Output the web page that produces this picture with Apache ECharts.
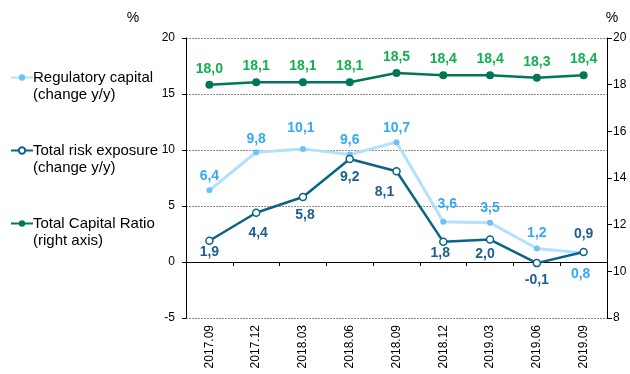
<!DOCTYPE html>
<html>
<head>
<meta charset="utf-8">
<script src="https://cdn.jsdelivr.net/npm/echarts@6/dist/echarts.min.js"></script>
<style>
  html, body { margin: 0; padding: 0; background: #fff; }
  #chart { width: 630px; height: 374px; }
</style>
</head>
<body>
<div id="chart"></div>
<script>
// Quarter-end dates
const categories = ['2017.09', '2017.12', '2018.03', '2018.06', '2018.09', '2018.12', '2019.03', '2019.06', '2019.09'];

// Year-on-year change, %
const regulatoryCapital = [6.4, 9.8, 10.1, 9.6, 10.7, 3.6, 3.5, 1.2, 0.8];
const totalRiskExposure = [1.9, 4.4, 5.8, 9.2, 8.1, 1.8, 2.0, -0.1, 0.9];

// Total Capital Ratio, % (right axis)
const totalCapitalRatio = [18.0, 18.1, 18.1, 18.1, 18.5, 18.4, 18.4, 18.3, 18.4];

// Axis tick settings
const leftTicks = { min: -5, max: 20, interval: 5 };
const rightTicks = { min: 8, max: 20, interval: 2 };

// Where each value label sits relative to its point
const regLabelPos = ['top', 'top', 'top', 'top', 'top', 'top', 'top', 'top', 'bottom'];
const riskLabelPos = ['bottom', 'bottom', 'bottom', 'bottom', 'bottom', 'bottom', 'bottom', 'bottom', 'top'];

const FONT = '"Liberation Sans", Arial, sans-serif';
const fmt = v => v.toFixed(1).replace('.', ',');

function withLabelPos(values, positions, extra) {
  return values.map((v, i) => ({
    value: v,
    label: Object.assign({ position: positions[i] }, (extra && extra[i]) || {})
  }));
}

// Small nudges for crowded labels
const riskLabelExtra = [
  { distance: 0 }, { distance: 9, offset: [2, 0] }, { distance: 7, offset: [2, 0] },
  { distance: 7 }, { distance: 10, offset: [-12, 0] }, { distance: 0, offset: [-3, 0] },
  { distance: 3, offset: [-5, 0] }, { distance: 6 }, { distance: 7 }
];
const regLabelExtra = [
  { distance: 4 }, { distance: 3 }, { distance: 11, offset: [-2, 0] }, { distance: 4 },
  { distance: 4 }, { distance: 8, offset: [4, 0] }, { distance: 5 }, { distance: 5 },
  { distance: 11, offset: [-3, 0] }
];

const legendText = {
  'Regulatory capital': 'Regulatory capital\n(change y/y)',
  'Total risk exposure': 'Total risk exposure\n(change y/y)',
  'Total Capital Ratio': 'Total Capital Ratio\n(right axis)'
};

const chart = echarts.init(document.getElementById('chart'), null, { renderer: 'canvas' });

const LH = 17;

chart.setOption({
  animation: false,
  backgroundColor: '#fff',
  textStyle: { fontFamily: FONT },
  grid: { left: 186, right: 23, top: 38, bottom: 56, containLabel: false, outerBoundsMode: 'none' },
  legend: {
    orient: 'vertical',
    left: 5,
    top: 47,
    itemWidth: 22,
    itemHeight: 8,
    itemGap: 22,
    selectedMode: false,
    textStyle: { fontFamily: FONT, fontSize: 15, color: '#000', lineHeight: LH, padding: [0, 0, 0, -5] },
    // leading blank line keeps the first text line level with the icon
    formatter: name => '\n' + legendText[name],
    data: ['Regulatory capital', 'Total risk exposure', 'Total Capital Ratio']
  },
  xAxis: {
    type: 'category',
    data: categories,
    boundaryGap: true,
    axisLine: { onZero: true, lineStyle: { color: '#000', width: 1 } },
    axisTick: { show: true, length: 4, lineStyle: { color: '#000' } },
    axisLabel: {
      rotate: 90, margin: 7, fontSize: 12, color: '#000', fontFamily: FONT
    },
    splitLine: { show: false }
  },
  yAxis: [
    {
      type: 'value',
      min: leftTicks.min, max: leftTicks.max, interval: leftTicks.interval,
      name: '%',
      nameLocation: 'end',
      nameGap: 13,
      nameTextStyle: { fontSize: 14, color: '#000', fontFamily: FONT, padding: [0, 106, 0, 0] },
      axisLine: { show: true, lineStyle: { color: '#000', width: 1 } },
      axisTick: { show: true, length: 4, lineStyle: { color: '#000' } },
      axisLabel: { fontSize: 12, color: '#000', margin: 11, fontFamily: FONT },
      splitLine: { show: true, lineStyle: { color: '#8c8c8c', type: [2, 1], width: 1 } }
    },
    {
      type: 'value',
      min: rightTicks.min, max: rightTicks.max, interval: rightTicks.interval,
      position: 'right',
      name: '%',
      nameLocation: 'end',
      nameGap: 13,
      nameTextStyle: { fontSize: 14, color: '#000', fontFamily: FONT, padding: [0, 0, 0, 10] },
      axisLine: { show: true, lineStyle: { color: '#000', width: 1 } },
      axisTick: { show: true, length: 5, lineStyle: { color: '#000' } },
      axisLabel: { fontSize: 12, color: '#000', margin: 6, fontFamily: FONT },
      splitLine: { show: false }
    }
  ],
  series: [
    {
      name: 'Regulatory capital',
      type: 'line',
      yAxisIndex: 0,
      z: 2,
      data: withLabelPos(regulatoryCapital, regLabelPos, regLabelExtra),
      symbol: 'circle',
      symbolSize: 6,
      lineStyle: { color: '#b3e0fb', width: 3 },
      itemStyle: { color: '#6cc3f5' },
      label: {
        show: true, formatter: p => fmt(p.value), fontSize: 14, fontWeight: 'bold',
        color: '#35a9f0', fontFamily: FONT
      }
    },
    {
      name: 'Total risk exposure',
      type: 'line',
      yAxisIndex: 0,
      z: 3,
      data: withLabelPos(totalRiskExposure, riskLabelPos, riskLabelExtra),
      symbol: 'circle',
      symbolSize: 7,
      lineStyle: { color: '#0a6585', width: 2.5 },
      itemStyle: { color: '#fff', borderColor: '#0a6585', borderWidth: 1.5 },
      label: {
        show: true, formatter: p => fmt(p.value), fontSize: 14, fontWeight: 'bold',
        color: '#1d5f8f', fontFamily: FONT
      }
    },
    {
      name: 'Total Capital Ratio',
      type: 'line',
      yAxisIndex: 1,
      z: 3,
      data: totalCapitalRatio,
      symbol: 'circle',
      symbolSize: 8,
      lineStyle: { color: '#007857', width: 2.5 },
      itemStyle: { color: '#007857' },
      label: {
        show: true, position: 'top', distance: 5, formatter: p => fmt(p.value),
        fontSize: 14, fontWeight: 'bold', color: '#12b04e', fontFamily: FONT
      }
    }
  ]
});
</script>
</body>
</html>
